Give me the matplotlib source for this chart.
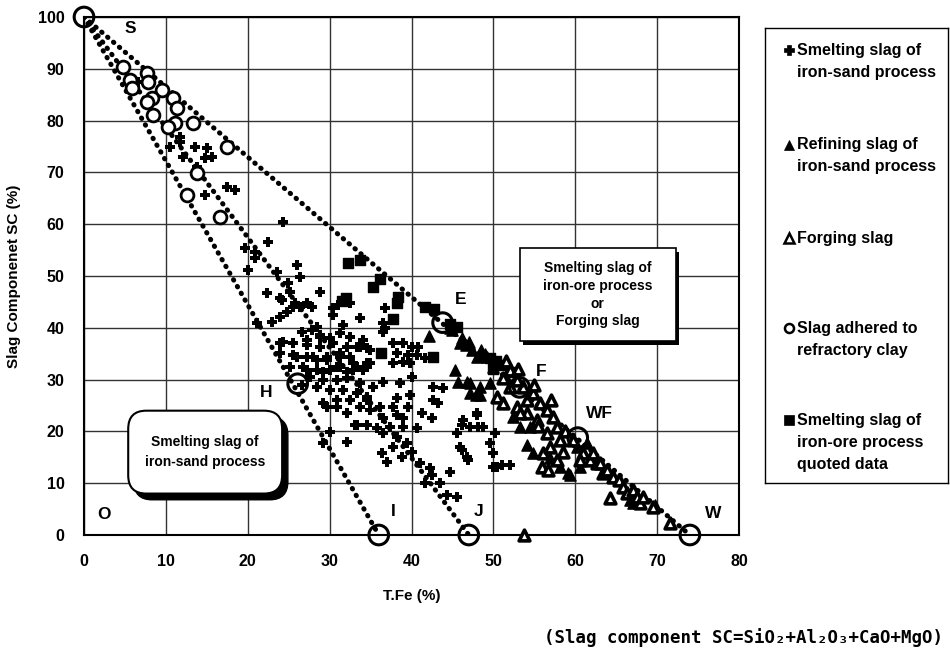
import matplotlib
matplotlib.use("Agg")
import matplotlib.pyplot as plt
from matplotlib.patches import FancyBboxPatch, Rectangle

plt.rcParams['font.family'] = ['Liberation Sans', 'DejaVu Sans']

# ---------------- data ----------------
# Smelting slag of iron-sand process (+)
plus_x = [6.6, 10.3, 11.7, 10.5, 11.7, 13.6, 15.0, 15.6, 14.8, 12.1, 13.8, 17.5, 18.4, 14.8,
          24.3, 19.7, 22.5, 20.9, 20.9, 20.0, 23.6, 26.0, 26.4, 24.9, 22.3, 23.9, 25.2, 25.8,
          26.4, 27.8, 24.8, 23.9, 21.1, 23.0, 28.8, 30.4, 30.4, 31.6, 33.7, 32.5, 31.0, 28.4,
          24.2, 25.5, 27.2, 36.8, 36.8,
          23.9, 25.5, 27.2, 28.8, 30.4, 32.1, 33.7, 34.9, 26.0, 28.0, 29.7, 31.3, 32.8, 34.6,
          25.2, 27.2, 29.2, 30.9, 32.1, 26.6, 27.8, 28.8, 30.0, 31.3, 32.5, 34.1, 24.3, 27.2,
          28.8, 23.9, 25.5, 27.2, 28.4, 29.7, 31.3, 32.5, 26.7, 28.4, 30.0, 31.3, 32.8, 34.6,
          27.6, 29.2, 30.9, 32.1, 33.7, 35.3, 28.4, 30.0, 31.6, 33.3, 30.9, 32.5, 34.6, 26.6,
          29.2, 30.9,
          36.5, 36.5, 33.3, 34.6, 37.7, 39.0, 40.0, 40.8, 38.2, 39.6, 40.7, 41.6, 37.7, 39.0,
          39.8, 33.3, 34.9, 34.1, 40.0, 36.5, 38.6, 42.6, 43.8, 42.6, 43.2, 39.8, 38.2, 34.6,
          33.7, 34.9, 36.1, 37.7, 39.6, 41.3, 42.5, 38.2, 39.0, 36.5, 33.3, 34.6, 35.8, 37.4,
          39.0, 40.7, 36.5, 38.2, 39.4, 37.7, 36.4, 37.0, 38.8, 40.0, 41.0, 42.2, 42.5, 44.7,
          41.6, 43.5, 44.3, 45.5, 45.9, 46.8, 46.3, 48.0, 48.1, 47.1, 49.6, 49.9, 48.7,
          29.7, 32.1, 30.0, 29.2, 32.1, 33.1, 46.2, 46.2, 46.9, 49.9, 50.4, 45.5,
          48.0, 50.2, 51.0, 52.0]
plus_y = [87.5, 79.1, 76.8, 74.9, 75.9, 74.9, 74.7, 73.0, 72.8, 73.0, 71.0, 67.2, 66.6, 65.6,
          60.4, 55.4, 56.6, 53.5, 54.6, 51.2, 50.8, 52.1, 49.8, 48.6, 46.7, 45.8, 46.9, 44.8,
          44.0, 44.0, 43.1, 42.1, 40.9, 41.1, 46.9, 43.8, 42.5, 40.5, 41.9, 44.8, 44.4, 40.2,
          45.4, 44.0, 44.8, 43.8, 40.0,
          37.1, 37.1, 37.6, 38.2, 37.1, 36.3, 36.3, 35.7, 34.4, 34.4, 33.8, 34.4, 33.2, 33.2,
          32.4, 31.9, 31.5, 32.4, 31.5, 39.2, 39.6, 38.6, 38.0, 39.0, 38.2, 37.6, 37.3, 36.7,
          36.3, 35.1, 34.7, 34.4, 33.8, 34.4, 35.1, 34.4, 32.4, 31.9, 31.9, 32.4, 31.9, 32.4,
          30.5, 29.9, 29.9, 30.3, 29.3, 28.6, 28.6, 28.0, 28.0, 27.4, 26.1, 26.1, 26.1, 29.0,
          25.5, 24.7,
          40.9, 39.2, 36.3, 36.1, 37.1, 37.1, 36.3, 36.3, 35.1, 34.7, 34.7, 34.2, 33.2, 33.4,
          33.2, 32.4, 33.2, 31.9, 30.5, 29.5, 29.3, 28.6, 28.4, 26.1, 25.5, 27.0, 26.4, 26.6,
          24.7, 24.1, 24.7, 24.7, 24.7, 23.6, 22.6, 23.2, 22.6, 22.6, 21.2, 21.2, 20.7, 20.8,
          20.8, 20.7, 19.7, 18.9, 17.8, 17.0, 15.8, 14.1, 15.1, 16.0, 13.9, 12.9, 11.6, 12.2,
          10.0, 10.0, 7.7, 19.7, 17.0, 15.1, 22.2, 23.6, 20.8, 20.8, 17.8, 13.1, 20.8,
          24.7, 23.6, 19.9, 17.8, 18.0, 21.2, 21.2, 16.4, 14.5, 15.8, 13.1, 7.3,
          23.2, 19.7, 13.5, 13.5]

# Refining slag of iron-sand process (filled triangle)
refin_x = [42.1, 45.3, 45.7, 46.8, 47.2, 47.9, 48.4, 45.9, 46.7, 48.0, 44.7, 47.4, 49.2, 49.9,
           50.8, 45.0, 46.2, 47.0, 48.5, 49.0, 54.1, 54.8, 59.1, 56.9, 58.1, 59.3, 60.6, 52.4,
           53.2, 54.5, 49.6, 48.4, 47.1, 66.7, 67.0, 69.7, 60.2, 61.4]
refin_y = [38.4, 31.9, 29.5, 29.5, 29.3, 27.0, 27.0, 37.1, 36.7, 34.4, 40.0, 35.7, 34.4, 32.4,
           33.2, 39.5, 38.0, 37.3, 35.8, 35.0, 17.4, 15.8, 12.0, 14.9, 13.1, 11.6, 13.1, 22.8,
           20.8, 20.8, 29.3, 28.6, 27.4, 6.8, 6.2, 5.8, 17.0, 17.8]

# Forging slag (open triangle)
forg_x = [51.2, 52.0, 50.4, 51.2, 52.9, 54.1, 54.8, 55.7, 56.5, 57.3, 57.8, 55.3, 55.9, 56.7,
          57.8, 56.0, 56.9, 58.1, 56.5, 60.9, 61.8, 62.6, 63.4, 60.6, 59.7, 53.6, 52.9, 52.0,
          54.1, 53.2, 62.2, 63.0, 63.9, 64.6, 65.4, 65.8, 66.3, 67.0, 67.5, 67.9, 68.3, 64.2,
          69.5, 71.6, 53.7, 55.5, 58.8, 58.5, 57.0, 55.0, 53.0, 51.5]
forg_y = [30.3, 28.6, 26.6, 25.5, 24.7, 26.1, 27.4, 25.5, 24.1, 22.8, 20.8, 22.2, 13.1, 12.5,
          14.5, 15.8, 17.0, 18.3, 19.7, 15.8, 14.5, 13.9, 12.0, 14.5, 18.3, 28.6, 29.9, 31.9,
          23.6, 23.6, 15.8, 13.9, 12.5, 11.2, 10.6, 9.3, 8.1, 8.7, 7.3, 6.2, 7.3, 7.1,
          5.4, 2.3, 0.0, 21.0, 20.0, 16.0, 26.0, 29.0, 32.0, 33.5]

# Slag adhered to refractory clay (open circle)
clay_x = [4.8, 7.7, 5.6, 5.9, 7.8, 9.5, 10.9, 11.4, 8.3, 7.7, 8.4, 11.1, 13.3, 17.5, 13.8,
          12.6, 16.6, 10.3]
clay_y = [90.3, 89.2, 87.8, 86.3, 87.5, 85.9, 84.4, 82.4, 84.4, 83.6, 81.1, 79.5, 79.5, 74.9,
          69.9, 65.6, 61.4, 78.8]

# Smelting slag of iron-ore process, quoted data (filled square)
ore_x = [32.3, 33.7, 36.2, 35.3, 32.0, 38.4, 38.2, 37.8, 36.3, 42.6, 41.7, 42.8, 45.5, 44.7,
         49.6, 50.3, 51.0, 50.0, 52.0, 31.5]
ore_y = [52.6, 53.0, 49.5, 47.8, 45.7, 45.9, 44.8, 41.7, 35.2, 34.4, 44.0, 43.6, 40.2, 40.8,
         34.2, 33.5, 32.8, 32.0, 31.5, 45.2]

# Reference points (large circles) and their labels
ref_names = ['S', 'E', 'F', 'WF', 'W', 'H', 'I', 'J']
ref_x = [0.0, 43.8, 53.2, 60.3, 74.0, 26.1, 36.0, 47.0]
ref_y = [100.0, 41.0, 28.5, 18.8, 0.0, 29.2, 0.0, 0.0]
label_names = ['S', 'E', 'F', 'WF', 'W', 'H', 'I', 'J', 'O']
label_x = [5.6, 46.0, 55.9, 63.0, 76.9, 22.2, 37.8, 48.2, 2.4]
label_y = [97.8, 45.5, 31.6, 23.4, 4.2, 27.5, 4.6, 4.6, 4.0]

# dotted boundary lines: S-W, S-I, S-J
lines = [('S', 'W'), ('S', 'I'), ('S', 'J')]

# ---------------- figure ----------------
fig = plt.figure(figsize=(9.5, 6.53), dpi=100)
ax = fig.add_axes([84/950, 1-535/653, (739-84)/950, (535-17)/653])
ax.set_xlim(0, 80)
ax.set_ylim(0, 100)
ax.set_xticks(range(0, 81, 10))
ax.set_yticks(range(0, 101, 10))
ax.grid(True, color='#333333', linewidth=1.0)
ax.set_axisbelow(True)
for sp in ax.spines.values():
    sp.set_linewidth(1.5)
    sp.set_color('black')
ax.tick_params(axis='x', length=0, labelsize=11.5, pad=14)
ax.tick_params(axis='y', length=0, labelsize=11.5, pad=14)
for lab in ax.get_xticklabels() + ax.get_yticklabels():
    lab.set_fontweight('bold')

idx = {n: i for i, n in enumerate(ref_names)}
for a, b in lines:
    ax.plot([ref_x[idx[a]], ref_x[idx[b]]], [ref_y[idx[a]], ref_y[idx[b]]],
            linestyle=(0, (0.1, 1.45)), color='black', linewidth=3.6,
            dash_capstyle='round', zorder=2)

ax.scatter(plus_x, plus_y, marker='P', s=62, color='black', linewidths=0, zorder=3)
ax.scatter(ore_x, ore_y, marker='s', s=60, color='black', zorder=3)
ax.scatter(refin_x, refin_y, marker='^', s=65, color='black', zorder=3)
ax.scatter(forg_x, forg_y, marker='^', s=60, facecolor='white', edgecolor='black',
           linewidths=2.6, zorder=3, clip_on=False)
ax.scatter(clay_x, clay_y, marker='o', s=85, facecolor='white', edgecolor='black',
           linewidths=2.0, zorder=4)
ax.scatter(ref_x, ref_y, marker='o', s=200, facecolor='none', edgecolor='black',
           linewidths=2.2, zorder=5, clip_on=False)

for n, x, y in zip(label_names, label_x, label_y):
    ax.text(x, y, n, fontsize=12.5, fontweight='bold', ha='center', va='center', zorder=6)

ax.set_xlabel('T.Fe (%)', fontsize=11, fontweight='bold', labelpad=14)
ax.set_ylabel('Slag Componenet SC (%)', fontsize=11, fontweight='bold', labelpad=12)

# annotation boxes inside plot
# square box with shadow (iron-ore / forging)
bx0, by0, bx1, by1 = 53.2, 37.4, 72.3, 55.4
ax.add_patch(Rectangle((bx0 + 0.4, by0 - 0.7), bx1 - bx0, by1 - by0, facecolor='black',
                       edgecolor='none', zorder=6))
ax.add_patch(Rectangle((bx0, by0), bx1 - bx0, by1 - by0, facecolor='white',
                       edgecolor='black', linewidth=1.2, zorder=7))
ax.text((bx0 + bx1) / 2, (by0 + by1) / 2,
        'Smelting slag of\niron\u2010ore process\nor\nForging slag',
        ha='center', va='center', fontsize=10, fontweight='bold', linespacing=1.35, zorder=8)

# rounded box with shadow (iron-sand)
rx0, ry0, rx1, ry1 = 5.4, 8.0, 24.2, 24.0
ax.add_patch(FancyBboxPatch((rx0 + 0.7, ry0 - 1.2), rx1 - rx0, ry1 - ry0,
                            boxstyle='round,pad=0,rounding_size=2.2',
                            mutation_aspect=1.6, facecolor='black', edgecolor='black',
                            zorder=6))
ax.add_patch(FancyBboxPatch((rx0, ry0), rx1 - rx0, ry1 - ry0,
                            boxstyle='round,pad=0,rounding_size=2.2',
                            mutation_aspect=1.6, facecolor='white', edgecolor='black',
                            linewidth=1.5, zorder=7))
ax.text((rx0 + rx1) / 2, (ry0 + ry1) / 2, 'Smelting slag of\niron\u2010sand process',
        ha='center', va='center', fontsize=10, fontweight='bold', linespacing=1.6, zorder=8)

# ---------------- legend panel ----------------
lg = fig.add_axes([765/950, 1-483/653, (948-765)/950, (483-28)/653])
lg.set_xlim(765, 948)
lg.set_ylim(483, 28)
lg.set_xticks([])
lg.set_yticks([])
for sp in lg.spines.values():
    sp.set_linewidth(1.0)

legend_entries = [
    ('P', 'black', 'black', ['Smelting slag of', 'iron\u2010sand process'], 50),
    ('^', 'black', 'black', ['Refining slag of', 'iron\u2010sand process'], 145),
    ('^', 'white', 'black', ['Forging slag'], 238),
    ('o', 'white', 'black', ['Slag adhered to', 'refractory clay'], 328),
    ('s', 'black', 'black', ['Smelting slag of', 'iron\u2010ore process', 'quoted data'], 420),
]
for mk, fc, ec, texts, y0 in legend_entries:
    lg.plot([789], [y0], marker=mk, markersize=6.5, markerfacecolor=fc, markeredgecolor=ec,
            markeredgewidth=1.8 if fc == 'white' else 0.5, linestyle='none')
    for k, t in enumerate(texts):
        lg.text(797, y0 + k * 22, t, fontsize=11.5, fontweight='bold', va='center', ha='left')

# footer
fig.text(943/950, 1-638/653, '(Slag component SC=SiO\u2082+Al\u2082O\u2083+CaO+MgO)',
         family='DejaVu Sans Mono', fontsize=12.5, fontweight='bold', ha='right', va='center')

fig.savefig('out.png', dpi=100)
